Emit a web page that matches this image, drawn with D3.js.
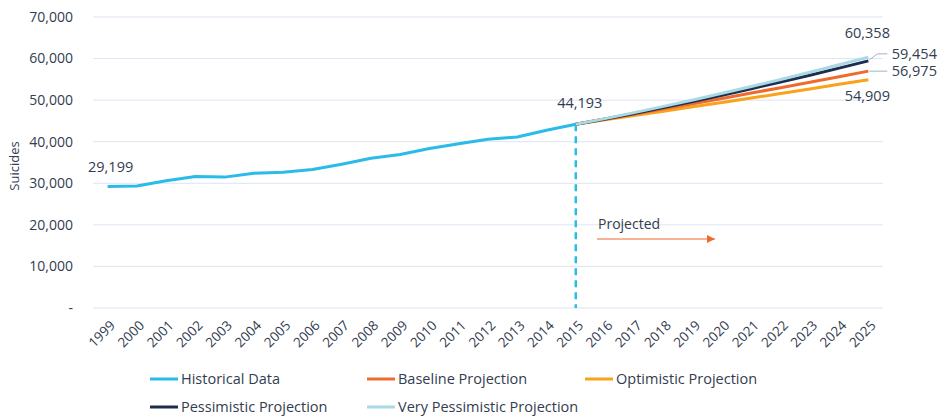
<!DOCTYPE html>
<html>
<head>
<meta charset="utf-8">
<script src="https://cdn.jsdelivr.net/npm/d3@7"></script>
<style>
  body { margin: 0; background: #fff; }
  svg { font-family: "Open Sans", "Noto Sans", sans-serif; }
  .tick-label { fill: #333c50; font-size: 14px; }
  .legend-label { fill: #333c50; font-size: 14.5px; }
</style>
</head>
<body>
<div class="chart"></div>
<script>
'use strict';

// Data
var historicalYears = [1999, 2000, 2001, 2002, 2003, 2004, 2005, 2006, 2007, 2008,
  2009, 2010, 2011, 2012, 2013, 2014, 2015];
var historicalValues = [29199, 29350, 30622, 31655, 31484, 32439, 32637, 33300, 34598, 36035,
  36909, 38364, 39518, 40600, 41149, 42773, 44193];

var projectionYears = [2015, 2016, 2017, 2018, 2019, 2020, 2021, 2022, 2023, 2024, 2025];
var baselineValues = [44193, 45400, 46650, 47900, 49150, 50400, 51700, 53000, 54300, 55650, 56975];
var optimisticValues = [44193, 45250, 46300, 47350, 48400, 49450, 50500, 51600, 52700, 53800, 54909];
var pessimisticValues = [44193, 45450, 46800, 48200, 49650, 51150, 52750, 54350, 56000, 57700, 59454];
var veryPessimisticValues = [44193, 45550, 47000, 48500, 50050, 51650, 53300, 54950, 56700, 58500, 60358];

var allYears = d3.range(1999, 2026);
var yTicks = [0, 10000, 20000, 30000, 40000, 50000, 60000, 70000];

var COLORS = {
  historical: '#2bbbe8',
  baseline: '#ef6a2d',
  optimistic: '#f9a21c',
  pessimistic: '#1e2d4d',
  veryPessimistic: '#a9d9e3'
};

var svg = d3.select('.chart').append('svg')
  .attr('width', 940)
  .attr('height', 417);

var x = d3.scalePoint()
  .domain(allYears)
  .range([93, 883])
  .padding(0.5);

var y = d3.scaleLinear()
  .domain([0, 70000])
  .range([308, 17]);

// Gridlines
svg.append('g')
  .selectAll('line')
  .data(yTicks)
  .enter()
  .append('line')
  .attr('x1', 93)
  .attr('x2', 883)
  .attr('y1', function(d) { return y(d); })
  .attr('y2', function(d) { return y(d); })
  .style('stroke', '#dde4f1')
  .style('stroke-width', 1);

// Y tick labels
svg.append('g')
  .selectAll('text')
  .data(yTicks)
  .enter()
  .append('text')
  .attr('class', 'tick-label')
  .attr('x', 73)
  .attr('y', function(d) { return y(d); })
  .attr('dy', '0.35em')
  .attr('text-anchor', 'end')
  .text(function(d) { return d === 0 ? '-' : d3.format(',')(d); });

// Y axis title
svg.append('text')
  .attr('class', 'tick-label')
  .attr('transform', 'translate(19,' + 166 + ') rotate(-90)')
  .attr('text-anchor', 'middle')
  .style('font-size', '13px')
  .text('Suicides');

// X tick labels, rotated
svg.append('g')
  .selectAll('text')
  .data(allYears)
  .enter()
  .append('text')
  .attr('class', 'tick-label')
  .style('font-size', '13.5px')
  .attr('text-anchor', 'end')
  .attr('transform', function(d) {
    return 'translate(' + (x(d) + 5) + ',' + 323 + ') rotate(-45)';
  })
  .attr('dy', '0.35em')
  .text(function(d) { return d; });

// Dashed vertical line at 2015
svg.append('line')
  .attr('x1', x(2015))
  .attr('x2', x(2015))
  .attr('y1', y(44193))
  .attr('y2', y(0))
  .style('stroke', COLORS.historical)
  .style('stroke-width', 2.5)
  .style('stroke-dasharray', '7,5');

var line = d3.line()
  .x(function(d) { return x(d[0]); })
  .y(function(d) { return y(d[1]); });

function drawSeries(years, values, color) {
  svg.append('path')
    .datum(d3.zip(years, values))
    .attr('d', line)
    .style('fill', 'none')
    .style('stroke', color)
    .style('stroke-width', 3)
    .style('stroke-linejoin', 'round');
}

drawSeries(projectionYears, optimisticValues, COLORS.optimistic);
drawSeries(projectionYears, baselineValues, COLORS.baseline);
drawSeries(projectionYears, pessimisticValues, COLORS.pessimistic);
drawSeries(projectionYears, veryPessimisticValues, COLORS.veryPessimistic);
drawSeries(historicalYears, historicalValues, COLORS.historical);

// Data labels
var fmt = d3.format(',');
var labels = [
  { x: x(1999) + 3, y: y(29199) - 20, text: fmt(historicalValues[0]) },
  { x: x(2015) + 4, y: y(44193) - 21, text: fmt(historicalValues[16]) },
  { x: x(2025) - 1, y: y(60358) - 24, text: fmt(veryPessimisticValues[10]) },
  { x: x(2025) + 46, y: y(59454) - 7, text: fmt(pessimisticValues[10]) },
  { x: x(2025) + 46, y: y(56975) + 0, text: fmt(baselineValues[10]) },
  { x: x(2025) - 1, y: y(54909) + 16, text: fmt(optimisticValues[10]) }
];
svg.append('g')
  .selectAll('text')
  .data(labels)
  .enter()
  .append('text')
  .attr('class', 'tick-label')
  .style('font-size', '14.5px')
  .attr('x', function(d) { return d.x; })
  .attr('y', function(d) { return d.y; })
  .attr('dy', '0.35em')
  .attr('text-anchor', 'middle')
  .text(function(d) { return d.text; });

// Leader lines for the two right-hand labels
svg.append('path')
  .attr('d', 'M' + (x(2025) + 1) + ',' + (y(59454) - 1) + 'L' + (x(2025) + 9) + ',' + (y(59454) - 7) + 'L' + (x(2025) + 19) + ',' + (y(59454) - 7))
  .style('fill', 'none')
  .style('stroke', '#9fb3d1')
  .style('stroke-width', 1);
svg.append('path')
  .attr('d', 'M' + (x(2025) + 1) + ',' + y(56975) + 'L' + (x(2025) + 19) + ',' + y(56975))
  .style('fill', 'none')
  .style('stroke', '#9fb3d1')
  .style('stroke-width', 1);

// "Projected" annotation with arrow
svg.append('defs')
  .append('marker')
  .attr('id', 'arrowHead')
  .attr('viewBox', '0 0 10 10')
  .attr('refX', 10)
  .attr('refY', 5)
  .attr('markerWidth', 8)
  .attr('markerHeight', 8)
  .attr('markerUnits', 'userSpaceOnUse')
  .attr('orient', 'auto')
  .append('path')
  .attr('d', 'M0,0L10,5L0,10Z')
  .style('fill', COLORS.baseline);

svg.append('text')
  .attr('class', 'tick-label')
  .attr('x', 598)
  .attr('y', 224)
  .attr('dy', '0.35em')
  .text('Projected');

svg.append('line')
  .attr('x1', 597)
  .attr('x2', 715)
  .attr('y1', 239)
  .attr('y2', 239)
  .attr('marker-end', 'url(#arrowHead)')
  .style('stroke', COLORS.baseline)
  .style('stroke-width', 1.2);

// Legend
var legendItems = [
  { label: 'Historical Data', color: COLORS.historical, x: 150, y: 379 },
  { label: 'Baseline Projection', color: COLORS.baseline, x: 367, y: 379 },
  { label: 'Optimistic Projection', color: COLORS.optimistic, x: 585, y: 379 },
  { label: 'Pessimistic Projection', color: COLORS.pessimistic, x: 150, y: 407 },
  { label: 'Very Pessimistic Projection', color: COLORS.veryPessimistic, x: 367, y: 407 }
];
var legend = svg.append('g')
  .selectAll('g')
  .data(legendItems)
  .enter()
  .append('g')
  .attr('transform', function(d) { return 'translate(' + d.x + ',' + d.y + ')'; });
legend.append('line')
  .attr('x1', 0)
  .attr('x2', 28)
  .style('stroke', function(d) { return d.color; })
  .style('stroke-width', 3);
legend.append('text')
  .attr('class', 'legend-label')
  .attr('x', 31)
  .attr('dy', '0.35em')
  .text(function(d) { return d.label; });
</script>
</body>
</html>
